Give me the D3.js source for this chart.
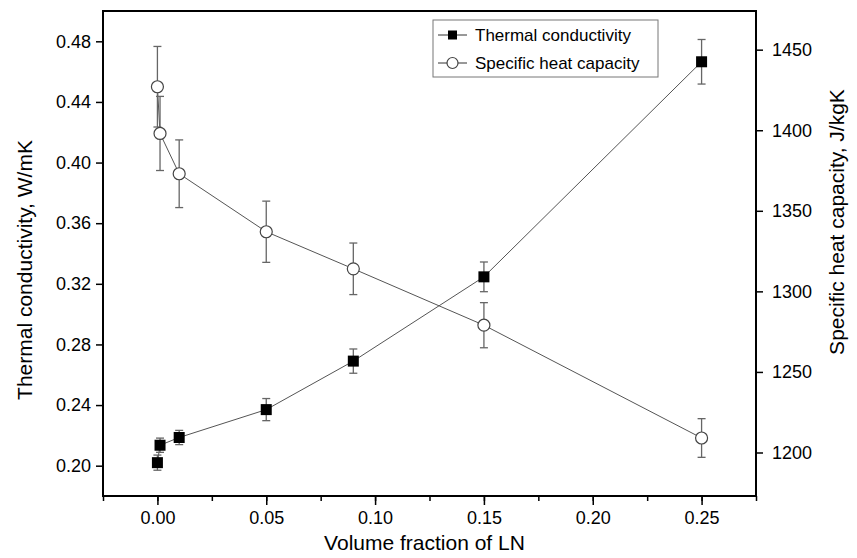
<!DOCTYPE html>
<html>
<head>
<meta charset="utf-8">
<script src="https://cdn.jsdelivr.net/npm/d3@7"></script>
<style>
  body { margin: 0; background: #fff; }
  text { font-family: "Liberation Sans", Arial, sans-serif; }
</style>
</head>
<body>
<div id="chart"></div>
<script>
// volume fraction of LN
var fraction = [0, 0.0012, 0.01, 0.05, 0.09, 0.15, 0.25];
// thermal conductivity, W/mK
var conductivity = [0.202, 0.2135, 0.2186, 0.237, 0.269, 0.3246, 0.4665];
var conductivityErr = [0.005, 0.0047, 0.0047, 0.0073, 0.008, 0.0098, 0.0147];
// specific heat capacity, J/kgK
var heatCap = [1427, 1398, 1373, 1337, 1314, 1279, 1209];
var heatCapErr = [25, 23, 21, 19, 16, 14, 12];

var xTicks = [0, 0.05, 0.10, 0.15, 0.20, 0.25];
var leftTicks = [0.20, 0.24, 0.28, 0.32, 0.36, 0.40, 0.44, 0.48];
var rightTicks = [1200, 1250, 1300, 1350, 1400, 1450];

var W = 857, H = 558;
var m = {left: 103, right: 101, top: 11, bottom: 62};
var iw = W - m.left - m.right, ih = H - m.top - m.bottom;

var svg = d3.select('#chart').append('svg')
  .attr('width', W)
  .attr('height', H);
var g = svg.append('g').attr('transform', 'translate(' + m.left + ',' + m.top + ')');

var x = d3.scaleLinear().domain([-0.025, 0.275]).range([0, iw]);
var yL = d3.scaleLinear().domain([0.18, 0.50]).range([ih, 0]);
var yR = d3.scaleLinear().domain([1173, 1474]).range([ih, 0]);

// minor x ticks
g.append('g')
  .attr('transform', 'translate(0,' + ih + ')')
  .call(d3.axisBottom(x).tickValues(d3.range(-0.025, 0.276, 0.025)).tickSize(5).tickFormat(''))
  .call(a => a.select('.domain').remove())
  .selectAll('line').attr('stroke-width', 1.5);

var xAxis = g.append('g')
  .attr('transform', 'translate(0,' + ih + ')')
  .call(d3.axisBottom(x).tickValues(xTicks).tickSize(9).tickPadding(6).tickFormat(d3.format('.2f')));
xAxis.select('.domain').remove();
xAxis.selectAll('line').attr('stroke-width', 1.5);
xAxis.selectAll('text').attr('font-size', 18);

var lAxis = g.append('g')
  .call(d3.axisLeft(yL).tickValues(leftTicks).tickSize(7).tickPadding(5).tickFormat(d3.format('.2f')));
lAxis.select('.domain').remove();
lAxis.selectAll('line').attr('stroke-width', 1.5);
lAxis.selectAll('text').attr('font-size', 18);

var rAxis = g.append('g')
  .attr('transform', 'translate(' + iw + ',0)')
  .call(d3.axisRight(yR).tickValues(rightTicks).tickSize(7).tickPadding(9).tickFormat(d3.format('d')));
rAxis.select('.domain').remove();
rAxis.selectAll('line').attr('stroke-width', 1.5);
rAxis.selectAll('text').attr('font-size', 18);

// frame
g.append('rect')
  .attr('width', iw).attr('height', ih)
  .attr('fill', 'none').attr('stroke', '#000').attr('stroke-width', 2);

// axis titles
svg.append('text')
  .attr('x', m.left + iw / 2 - 5).attr('y', 550)
  .attr('text-anchor', 'middle').attr('font-size', 21)
  .text('Volume fraction of LN');
svg.append('text')
  .attr('transform', 'translate(32,270) rotate(-90)')
  .attr('text-anchor', 'middle').attr('font-size', 21)
  .text('Thermal conductivity, W/mK');
svg.append('text')
  .attr('transform', 'translate(844,222) rotate(-90)')
  .attr('text-anchor', 'middle').attr('font-size', 21)
  .text('Specific heat capacity, J/kgK');

var lineColor = '#555';
var errColor = '#666';

function series(vals, errs, y) {
  var pts = fraction.map((f, i) => ({x: f, v: vals[i], e: errs[i]}));
  g.append('path')
    .datum(pts)
    .attr('fill', 'none').attr('stroke', lineColor).attr('stroke-width', 1)
    .attr('d', d3.line().x(d => x(d.x)).y(d => y(d.v)));
  var eb = g.append('g').selectAll('g').data(pts).enter().append('g')
    .attr('stroke', errColor).attr('stroke-width', 1.3);
  eb.append('line')
    .attr('x1', d => x(d.x)).attr('x2', d => x(d.x))
    .attr('y1', d => y(d.v - d.e)).attr('y2', d => y(d.v + d.e));
  eb.append('line')
    .attr('x1', d => x(d.x) - 4).attr('x2', d => x(d.x) + 4)
    .attr('y1', d => y(d.v - d.e)).attr('y2', d => y(d.v - d.e));
  eb.append('line')
    .attr('x1', d => x(d.x) - 4).attr('x2', d => x(d.x) + 4)
    .attr('y1', d => y(d.v + d.e)).attr('y2', d => y(d.v + d.e));
  return pts;
}

var sq = series(conductivity, conductivityErr, yL);
var ci = series(heatCap, heatCapErr, yR);

g.append('g').selectAll('rect').data(sq).enter().append('rect')
  .attr('x', d => x(d.x) - 5.5).attr('y', d => yL(d.v) - 5.5)
  .attr('width', 11).attr('height', 11).attr('fill', '#000');

g.append('g').selectAll('circle').data(ci).enter().append('circle')
  .attr('cx', d => x(d.x)).attr('cy', d => yR(d.v)).attr('r', 6)
  .attr('fill', '#fff').attr('stroke', '#444').attr('stroke-width', 1.2);

// legend
var lg = svg.append('g').attr('transform', 'translate(433,20)');
lg.append('rect').attr('width', 225).attr('height', 57)
  .attr('fill', '#fff').attr('stroke', '#777').attr('stroke-width', 1);
var items = [{name: 'Thermal conductivity', type: 'sq'}, {name: 'Specific heat capacity', type: 'ci'}];
var li = lg.selectAll('g.item').data(items).enter().append('g')
  .attr('transform', (d, i) => 'translate(0,' + (15 + 28 * i) + ')');
li.append('line').attr('x1', 5).attr('x2', 34).attr('stroke', '#333').attr('stroke-width', 1);
li.filter(d => d.type == 'sq').append('rect')
  .attr('x', 15).attr('y', -4.5).attr('width', 9).attr('height', 9).attr('fill', '#000');
li.filter(d => d.type == 'ci').append('circle')
  .attr('cx', 19.5).attr('r', 5.5).attr('fill', '#fff').attr('stroke', '#444').attr('stroke-width', 1.2);
li.append('text').attr('x', 42).attr('y', 6).attr('font-size', 17).text(d => d.name);
</script>
</body>
</html>
